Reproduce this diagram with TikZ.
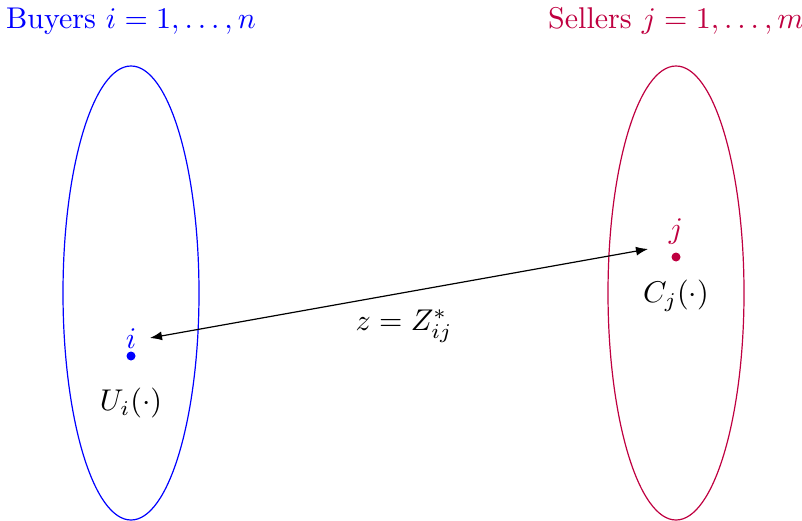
\documentclass[tikz,border=0pt]{standalone}
\usetikzlibrary{arrows.meta}
\begin{document}
\begin{tikzpicture}[x=0.01172cm,y=-0.01172cm,
  buyer/.style={blue},
  seller/.style={purple},
  lbl/.style={inner sep=0pt}]
\useasboundingbox (0,0) rectangle (802,520);
\draw[buyer] (131,293) ellipse [x radius=68, y radius=227];
\draw[seller] (676,293) ellipse [x radius=68, y radius=227];
\node[buyer,lbl] (tb) at (131,21) {Buyers $i=1,\ldots,n$};
\node[seller,lbl] (ts) at (676,21) {Sellers $j=1,\ldots,m$};
\fill[buyer] (131,356) circle (4.5);
\coordinate (di) at (131,356);
\fill[seller] (676,257) circle (4.5);
\coordinate (dj) at (676,257);
\node[buyer,lbl] (li) at (131,339) {$i$};
\node[seller,lbl] (lj) at (676,232) {$j$};
\node[lbl] (ui) at (131,403) {$U_i(\cdot)$};
\node[lbl] (cj) at (676,296) {$C_j(\cdot)$};
\coordinate (a) at (150,338);
\coordinate (b) at (648,249);
\draw[{Latex[length=4pt,width=3pt]}-{Latex[length=4pt,width=3pt]}] (a) -- (b);
\node[lbl] (z) at (404,326) {$z=Z^*_{ij}$};
\end{tikzpicture}
\end{document}
